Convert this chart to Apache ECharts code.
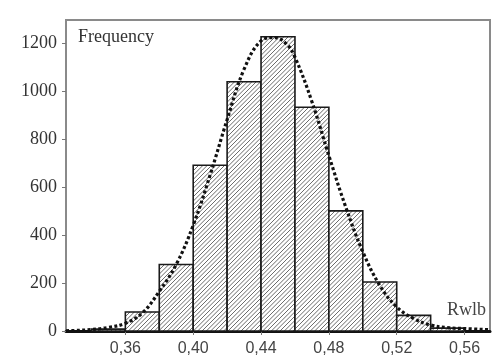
<!DOCTYPE html>
<html>
<head>
<meta charset="utf-8">
<script src="https://cdn.jsdelivr.net/npm/echarts@6/dist/echarts.min.js"></script>
<style>
  html, body { margin: 0; padding: 0; background: #fff; }
  #chart { width: 493px; height: 364px; }
</style>
</head>
<body>
<div id="chart"></div>
<script>
// ---- data ----
const binStarts = [0.34, 0.36, 0.38, 0.40, 0.42, 0.44, 0.46, 0.48, 0.50, 0.52, 0.54];
const binWidth = 0.02;
const frequencies = [8, 79, 277, 690, 1038, 1225, 932, 500, 204, 65, 12];
const curveX = [0.325, 0.33, 0.34, 0.35, 0.36, 0.37, 0.38, 0.39, 0.40, 0.41, 0.42, 0.43, 0.44, 0.448, 0.455, 0.46, 0.47, 0.48, 0.49, 0.50, 0.51, 0.52, 0.53, 0.54, 0.55, 0.56, 0.575];
const curveY = [1, 2, 6, 15, 32, 75, 165, 277, 440, 650, 880, 1090, 1208, 1222, 1195, 1140, 955, 730, 515, 330, 190, 100, 52, 25, 14, 10, 5];
const xTicks = [0.36, 0.40, 0.44, 0.48, 0.52, 0.56];
const yTicks = [0, 200, 400, 600, 800, 1000, 1200];

// ---- hatch pattern ----
function makeHatch() {
  const s = 13;
  const c = document.createElement('canvas');
  c.width = s; c.height = s;
  const ctx = c.getContext('2d');
  ctx.fillStyle = '#fff';
  ctx.fillRect(0, 0, s, s);
  ctx.strokeStyle = '#5a5a5a';
  ctx.lineWidth = 0.9;
  for (let k = -1; k <= 7; k++) {
    const cc = k * s / 3;
    ctx.beginPath();
    ctx.moveTo(cc + 1, -1);
    ctx.lineTo(cc - s - 1, s + 1);
    ctx.stroke();
  }
  return c;
}
const hatch = makeHatch();

const barData = binStarts.map((s, i) => [s, s + binWidth, frequencies[i]]);
const lineData = curveX.map((x, i) => [x, curveY[i]]);

const chart = echarts.init(document.getElementById('chart'), null, { renderer: 'canvas' });
chart.setOption({
  animation: false,
  backgroundColor: '#fff',
  grid: {
    left: 66, right: 3, top: 20, bottom: 33,
    show: true, borderColor: '#8a8a8a', borderWidth: 2, backgroundColor: 'transparent'
  },
  xAxis: {
    type: 'value', min: 0.325, max: 0.575,
    axisLine: { show: true, onZero: false, lineStyle: { color: '#111', width: 3 } },
    axisTick: { show: true, customValues: xTicks, length: 4, lineStyle: { color: '#777', width: 1 } },
    axisLabel: {
      customValues: xTicks, margin: 10,
      fontFamily: 'Liberation Sans, Arial, sans-serif', fontSize: 16, color: '#444',
      formatter: v => v.toFixed(2).replace('.', ',')
    },
    splitLine: { show: false }
  },
  yAxis: {
    type: 'value', min: 0, max: 1295,
    axisLine: { show: true, lineStyle: { color: '#8a8a8a', width: 2 } },
    axisTick: { show: true, customValues: yTicks, length: 4, lineStyle: { color: '#777', width: 1 } },
    axisLabel: {
      customValues: yTicks, margin: 9,
      fontFamily: 'Liberation Serif, Times New Roman, serif', fontSize: 18, color: '#333',
      formatter: v => String(v)
    },
    splitLine: { show: false }
  },
  series: [
    {
      type: 'custom',
      data: barData,
      encode: { x: [0, 1], y: 2 },
      renderItem: function (params, api) {
        const p0 = api.coord([api.value(0), api.value(2)]);
        const p1 = api.coord([api.value(1), 0]);
        return {
          type: 'rect',
          shape: { x: p0[0], y: p0[1], width: p1[0] - p0[0], height: p1[1] - p0[1] },
          style: { fill: { image: hatch, repeat: 'repeat' }, stroke: '#1a1a1a', lineWidth: 1.6 }
        };
      },
      z: 2
    },
    {
      type: 'line',
      data: lineData,
      smooth: 0.4,
      showSymbol: false,
      lineStyle: { color: '#111', width: 3.2, type: [3, 2.4] },
      z: 3
    }
  ],
  graphic: [
    { type: 'text', left: 78, top: 28, style: { text: 'Frequency', font: '18px "Liberation Serif", serif', fill: '#333' } },
    { type: 'text', right: 7, top: 301, style: { text: 'Rwlb', font: '18px "Liberation Serif", serif', fill: '#444' } }
  ]
});
</script>
</body>
</html>
